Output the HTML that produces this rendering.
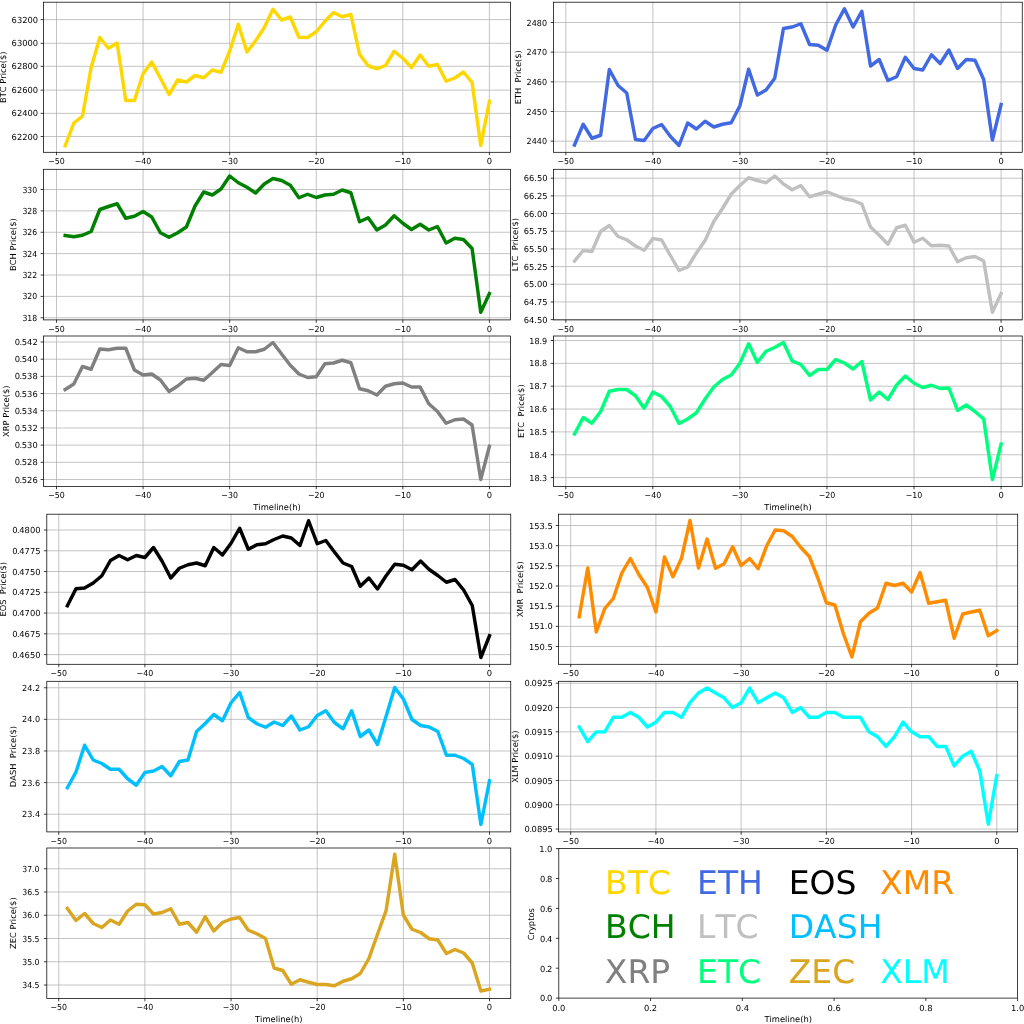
<!DOCTYPE html>
<html><head><meta charset="utf-8"><title>Crypto prices</title>
<style>
html,body{margin:0;padding:0;background:#fff;}
svg{display:block;will-change:transform;}
text{font-family:"DejaVu Sans","Liberation Sans",sans-serif;fill:#000;text-rendering:geometricPrecision;font-kerning:none;}
.t{font-size:8.33px;white-space:pre;}
.g{stroke:#b0b0b0;stroke-width:0.75;fill:none;}
.k{stroke:#000;stroke-width:0.75;fill:none;}
.d{fill:none;stroke-width:3.45;stroke-linejoin:round;stroke-linecap:square;}
.big{font-size:33.0px;}
</style></head><body>
<svg width="1024" height="1024" viewBox="0 0 1024 1024">
<rect x="0" y="0" width="1024" height="1024" fill="#fff"/>
<g id="BTC">
<path class="g" d="M56.5 2.2V152.3M143.08 2.2V152.3M229.66 2.2V152.3M316.24 2.2V152.3M402.82 2.2V152.3M489.4 2.2V152.3M43.5 19.6H510.6M43.5 43.3H510.6M43.5 66.3H510.6M43.5 90.15H510.6M43.5 113.35H510.6M43.5 136.5H510.6"/>
<polyline class="d" stroke="#FFD700" points="65.16,145.75 73.82,123 82.47,116.25 91.13,67.5 99.79,37.5 108.45,48.25 117.11,43 125.76,100.5 134.42,100.5 143.08,73.75 151.74,62 160.4,78.25 169.05,94.5 177.71,80 186.37,82 195.03,75.5 203.69,77.75 212.34,70 221,72.25 229.66,51.25 238.32,24.25 246.98,52 255.63,40.75 264.29,27.5 272.95,9.25 281.61,20 290.27,17 298.92,37.25 307.58,37.5 316.24,31.75 324.9,21.25 333.56,12.5 342.21,16.75 350.87,14.5 359.53,54.25 368.19,65.75 376.85,68.75 385.5,65.5 394.16,51.25 402.82,58.25 411.48,67.5 420.14,55 428.79,66.25 437.45,64.5 446.11,81.25 454.77,78 463.43,72 472.08,82.5 480.74,145.5 489.4,101.25"/>
<rect class="k" x="43.5" y="2.2" width="467.1" height="150.1"/>
<path class="k" d="M56.5 152.3v2.9M143.08 152.3v2.9M229.66 152.3v2.9M316.24 152.3v2.9M402.82 152.3v2.9M489.4 152.3v2.9M43.5 19.6h-2.9M43.5 43.3h-2.9M43.5 66.3h-2.9M43.5 90.15h-2.9M43.5 113.35h-2.9M43.5 136.5h-2.9"/>
<text class="t" x="56.5" y="164.3" textLength="16.58" lengthAdjust="spacingAndGlyphs" text-anchor="middle">−50</text>
<text class="t" x="143.08" y="164.3" textLength="16.58" lengthAdjust="spacingAndGlyphs" text-anchor="middle">−40</text>
<text class="t" x="229.66" y="164.3" textLength="16.58" lengthAdjust="spacingAndGlyphs" text-anchor="middle">−30</text>
<text class="t" x="316.24" y="164.3" textLength="16.58" lengthAdjust="spacingAndGlyphs" text-anchor="middle">−20</text>
<text class="t" x="402.82" y="164.3" textLength="16.58" lengthAdjust="spacingAndGlyphs" text-anchor="middle">−10</text>
<text class="t" x="489.4" y="164.3" text-anchor="middle">0</text>
<text class="t" x="38.1" y="22.65" text-anchor="end">63200</text>
<text class="t" x="38.1" y="46.35" text-anchor="end">63000</text>
<text class="t" x="38.1" y="69.35" text-anchor="end">62800</text>
<text class="t" x="38.1" y="93.2" text-anchor="end">62600</text>
<text class="t" x="38.1" y="116.4" text-anchor="end">62400</text>
<text class="t" x="38.1" y="139.55" text-anchor="end">62200</text>
<text class="t" xml:space="preserve" text-anchor="middle" transform="translate(6.21 77.25) rotate(-90)">BTC Price($)</text>
</g>
<g id="ETH">
<path class="g" d="M565.8 2.2V152.3M652.86 2.2V152.3M739.92 2.2V152.3M826.98 2.2V152.3M914.04 2.2V152.3M1001.1 2.2V152.3M553.6 22.5H1022.25M553.6 52.17H1022.25M553.6 81.84H1022.25M553.6 111.51H1022.25M553.6 141.18H1022.25"/>
<polyline class="d" stroke="#4169E1" points="574.51,145 583.21,124.25 591.92,138.25 600.62,135.25 609.33,69.5 618.04,85.5 626.74,93 635.45,139.5 644.15,140.5 652.86,128.5 661.57,124.5 670.27,136.25 678.98,145.5 687.68,123 696.39,129 705.1,121.25 713.8,127 722.51,124.25 731.21,122.75 739.92,105.75 748.63,69.25 757.33,95 766.04,90 774.74,78.25 783.45,28.5 792.16,27 800.86,23.75 809.57,44.5 818.27,45.25 826.98,50.25 835.69,25 844.39,8.75 853.1,27 861.8,11.25 870.51,66 879.22,59.5 887.92,80.5 896.63,76.75 905.33,57.25 914.04,68.5 922.75,70 931.45,54.75 940.16,63.5 948.86,50 957.57,68.5 966.28,59.5 974.98,60.25 983.69,79.5 992.39,140 1001.1,104.5"/>
<rect class="k" x="553.6" y="2.2" width="468.65" height="150.1"/>
<path class="k" d="M565.8 152.3v2.9M652.86 152.3v2.9M739.92 152.3v2.9M826.98 152.3v2.9M914.04 152.3v2.9M1001.1 152.3v2.9M553.6 22.5h-2.9M553.6 52.17h-2.9M553.6 81.84h-2.9M553.6 111.51h-2.9M553.6 141.18h-2.9"/>
<text class="t" x="565.8" y="164.3" textLength="16.58" lengthAdjust="spacingAndGlyphs" text-anchor="middle">−50</text>
<text class="t" x="652.86" y="164.3" textLength="16.58" lengthAdjust="spacingAndGlyphs" text-anchor="middle">−40</text>
<text class="t" x="739.92" y="164.3" textLength="16.58" lengthAdjust="spacingAndGlyphs" text-anchor="middle">−30</text>
<text class="t" x="826.98" y="164.3" textLength="16.58" lengthAdjust="spacingAndGlyphs" text-anchor="middle">−20</text>
<text class="t" x="914.04" y="164.3" textLength="16.58" lengthAdjust="spacingAndGlyphs" text-anchor="middle">−10</text>
<text class="t" x="1001.1" y="164.3" text-anchor="middle">0</text>
<text class="t" x="547.05" y="25.55" textLength="20.44" lengthAdjust="spacingAndGlyphs" text-anchor="end">2480</text>
<text class="t" x="547.05" y="55.22" textLength="20.44" lengthAdjust="spacingAndGlyphs" text-anchor="end">2470</text>
<text class="t" x="547.05" y="84.89" textLength="20.44" lengthAdjust="spacingAndGlyphs" text-anchor="end">2460</text>
<text class="t" x="547.05" y="114.56" textLength="20.44" lengthAdjust="spacingAndGlyphs" text-anchor="end">2450</text>
<text class="t" x="547.05" y="144.23" textLength="20.44" lengthAdjust="spacingAndGlyphs" text-anchor="end">2440</text>
<text class="t" xml:space="preserve" text-anchor="middle" transform="translate(521.31 77.25) rotate(-90)">ETH  Price($)</text>
</g>
<g id="BCH">
<path class="g" d="M56.5 169.3V319.9M143.08 169.3V319.9M229.66 169.3V319.9M316.24 169.3V319.9M402.82 169.3V319.9M489.4 169.3V319.9M43.5 189.5H510.6M43.5 210.88H510.6M43.5 232.26H510.6M43.5 253.64H510.6M43.5 275.02H510.6M43.5 296.4H510.6M43.5 317.78H510.6"/>
<polyline class="d" stroke="#008000" points="65.16,235.5 73.82,236.75 82.47,235.25 91.13,231.5 99.79,209.5 108.45,206.5 117.11,203.75 125.76,218.25 134.42,216.25 143.08,211.5 151.74,217 160.4,232.75 169.05,237.25 177.71,232.75 186.37,227 195.03,206 203.69,192 212.34,195 221,189 229.66,176 238.32,182.75 246.98,187.25 255.63,193 264.29,184 272.95,178.5 281.61,180.5 290.27,185.25 298.92,197.75 307.58,194.25 316.24,197.5 324.9,195 333.56,194.25 342.21,190 350.87,192.75 359.53,221.75 368.19,217.75 376.85,230 385.5,225 394.16,215.75 402.82,223.25 411.48,229.5 420.14,224.25 428.79,230 437.45,226.5 446.11,243 454.77,238.25 463.43,239.5 472.08,248.5 480.74,312.25 489.4,293.5"/>
<rect class="k" x="43.5" y="169.3" width="467.1" height="150.6"/>
<path class="k" d="M56.5 319.9v2.9M143.08 319.9v2.9M229.66 319.9v2.9M316.24 319.9v2.9M402.82 319.9v2.9M489.4 319.9v2.9M43.5 189.5h-2.9M43.5 210.88h-2.9M43.5 232.26h-2.9M43.5 253.64h-2.9M43.5 275.02h-2.9M43.5 296.4h-2.9M43.5 317.78h-2.9"/>
<text class="t" x="56.5" y="331.9" textLength="16.58" lengthAdjust="spacingAndGlyphs" text-anchor="middle">−50</text>
<text class="t" x="143.08" y="331.9" textLength="16.58" lengthAdjust="spacingAndGlyphs" text-anchor="middle">−40</text>
<text class="t" x="229.66" y="331.9" textLength="16.58" lengthAdjust="spacingAndGlyphs" text-anchor="middle">−30</text>
<text class="t" x="316.24" y="331.9" textLength="16.58" lengthAdjust="spacingAndGlyphs" text-anchor="middle">−20</text>
<text class="t" x="402.82" y="331.9" textLength="16.58" lengthAdjust="spacingAndGlyphs" text-anchor="middle">−10</text>
<text class="t" x="489.4" y="331.9" text-anchor="middle">0</text>
<text class="t" x="37.2" y="192.55" textLength="14.79" lengthAdjust="spacingAndGlyphs" text-anchor="end">330</text>
<text class="t" x="37.2" y="213.93" textLength="14.79" lengthAdjust="spacingAndGlyphs" text-anchor="end">328</text>
<text class="t" x="37.2" y="235.31" textLength="14.79" lengthAdjust="spacingAndGlyphs" text-anchor="end">326</text>
<text class="t" x="37.2" y="256.69" textLength="14.79" lengthAdjust="spacingAndGlyphs" text-anchor="end">324</text>
<text class="t" x="37.2" y="278.07" textLength="14.79" lengthAdjust="spacingAndGlyphs" text-anchor="end">322</text>
<text class="t" x="37.2" y="299.45" textLength="14.79" lengthAdjust="spacingAndGlyphs" text-anchor="end">320</text>
<text class="t" x="37.2" y="320.83" textLength="14.79" lengthAdjust="spacingAndGlyphs" text-anchor="end">318</text>
<text class="t" xml:space="preserve" text-anchor="middle" transform="translate(16.36 244.6) rotate(-90)">BCH Price($)</text>
</g>
<g id="LTC">
<path class="g" d="M565.8 169.3V319.9M652.86 169.3V319.9M739.92 169.3V319.9M826.98 169.3V319.9M914.04 169.3V319.9M1001.1 169.3V319.9M553.6 178.2H1022.25M553.6 195.88H1022.25M553.6 213.56H1022.25M553.6 231.24H1022.25M553.6 248.92H1022.25M553.6 266.6H1022.25M553.6 284.28H1022.25M553.6 301.96H1022.25M553.6 319.64H1022.25"/>
<polyline class="d" stroke="#C0C0C0" points="574.51,261 583.21,250.5 591.92,251.5 600.62,231.5 609.33,225.5 618.04,236.5 626.74,239.75 635.45,246 644.15,250.25 652.86,238.5 661.57,240 670.27,255.25 678.98,270.5 687.68,267 696.39,253 705.1,240.5 713.8,221.5 722.51,208.5 731.21,194.25 739.92,185.5 748.63,177.75 757.33,180.5 766.04,182.75 774.74,176 783.45,184 792.16,189.75 800.86,185.5 809.57,196.75 818.27,194.25 826.98,191.75 835.69,195.25 844.39,198.75 853.1,200.5 861.8,204 870.51,227 879.22,235.25 887.92,244.25 896.63,227.75 905.33,225.25 914.04,242.25 922.75,238.25 931.45,245.75 940.16,245.25 948.86,246 957.57,261.75 966.28,257.75 974.98,256.5 983.69,261 992.39,312.25 1001.1,293.5"/>
<rect class="k" x="553.6" y="169.3" width="468.65" height="150.6"/>
<path class="k" d="M565.8 319.9v2.9M652.86 319.9v2.9M739.92 319.9v2.9M826.98 319.9v2.9M914.04 319.9v2.9M1001.1 319.9v2.9M553.6 178.2h-2.9M553.6 195.88h-2.9M553.6 213.56h-2.9M553.6 231.24h-2.9M553.6 248.92h-2.9M553.6 266.6h-2.9M553.6 284.28h-2.9M553.6 301.96h-2.9M553.6 319.64h-2.9"/>
<text class="t" x="565.8" y="331.9" textLength="16.58" lengthAdjust="spacingAndGlyphs" text-anchor="middle">−50</text>
<text class="t" x="652.86" y="331.9" textLength="16.58" lengthAdjust="spacingAndGlyphs" text-anchor="middle">−40</text>
<text class="t" x="739.92" y="331.9" textLength="16.58" lengthAdjust="spacingAndGlyphs" text-anchor="middle">−30</text>
<text class="t" x="826.98" y="331.9" textLength="16.58" lengthAdjust="spacingAndGlyphs" text-anchor="middle">−20</text>
<text class="t" x="914.04" y="331.9" textLength="16.58" lengthAdjust="spacingAndGlyphs" text-anchor="middle">−10</text>
<text class="t" x="1001.1" y="331.9" text-anchor="middle">0</text>
<text class="t" x="547.5" y="181.25" text-anchor="end">66.50</text>
<text class="t" x="547.5" y="198.93" text-anchor="end">66.25</text>
<text class="t" x="547.5" y="216.61" text-anchor="end">66.00</text>
<text class="t" x="547.5" y="234.29" text-anchor="end">65.75</text>
<text class="t" x="547.5" y="251.97" text-anchor="end">65.50</text>
<text class="t" x="547.5" y="269.65" text-anchor="end">65.25</text>
<text class="t" x="547.5" y="287.33" text-anchor="end">65.00</text>
<text class="t" x="547.5" y="305.01" text-anchor="end">64.75</text>
<text class="t" x="547.5" y="322.69" text-anchor="end">64.50</text>
<text class="t" xml:space="preserve" text-anchor="middle" transform="translate(517.76 244.6) rotate(-90)">LTC  Price($)</text>
</g>
<g id="XRP">
<path class="g" d="M56.5 336V486.4M143.08 336V486.4M229.66 336V486.4M316.24 336V486.4M402.82 336V486.4M489.4 336V486.4M43.5 342H510.6M43.5 359.19H510.6M43.5 376.38H510.6M43.5 393.57H510.6M43.5 410.76H510.6M43.5 427.95H510.6M43.5 445.14H510.6M43.5 462.33H510.6M43.5 479.52H510.6"/>
<polyline class="d" stroke="#808080" points="65.16,389.5 73.82,384 82.47,366.5 91.13,369.25 99.79,349 108.45,349.75 117.11,348.25 125.76,348.25 134.42,370 143.08,375 151.74,374 160.4,380 169.05,391.5 177.71,386 186.37,379 195.03,378.25 203.69,380.25 212.34,372.5 221,364.5 229.66,365.5 238.32,347.75 246.98,351.75 255.63,351.75 264.29,349.25 272.95,342.5 281.61,354 290.27,365.25 298.92,374 307.58,377.5 316.24,376.75 324.9,363.75 333.56,363 342.21,360.25 350.87,362.75 359.53,388.75 368.19,390.75 376.85,395 385.5,386.25 394.16,383.75 402.82,383 411.48,387 420.14,387 428.79,403.75 437.45,411.5 446.11,423.25 454.77,419.75 463.43,419 472.08,425 480.74,479.5 489.4,446.25"/>
<rect class="k" x="43.5" y="336" width="467.1" height="150.4"/>
<path class="k" d="M56.5 486.4v2.9M143.08 486.4v2.9M229.66 486.4v2.9M316.24 486.4v2.9M402.82 486.4v2.9M489.4 486.4v2.9M43.5 342h-2.9M43.5 359.19h-2.9M43.5 376.38h-2.9M43.5 393.57h-2.9M43.5 410.76h-2.9M43.5 427.95h-2.9M43.5 445.14h-2.9M43.5 462.33h-2.9M43.5 479.52h-2.9"/>
<text class="t" x="56.5" y="498.4" textLength="16.58" lengthAdjust="spacingAndGlyphs" text-anchor="middle">−50</text>
<text class="t" x="143.08" y="498.4" textLength="16.58" lengthAdjust="spacingAndGlyphs" text-anchor="middle">−40</text>
<text class="t" x="229.66" y="498.4" textLength="16.58" lengthAdjust="spacingAndGlyphs" text-anchor="middle">−30</text>
<text class="t" x="316.24" y="498.4" textLength="16.58" lengthAdjust="spacingAndGlyphs" text-anchor="middle">−20</text>
<text class="t" x="402.82" y="498.4" textLength="16.58" lengthAdjust="spacingAndGlyphs" text-anchor="middle">−10</text>
<text class="t" x="489.4" y="498.4" text-anchor="middle">0</text>
<text class="t" x="37.7" y="345.05" dx="0 -0.5 -0.45" text-anchor="end">0.542</text>
<text class="t" x="37.7" y="362.24" dx="0 -0.5 -0.45" text-anchor="end">0.540</text>
<text class="t" x="37.7" y="379.43" dx="0 -0.5 -0.45" text-anchor="end">0.538</text>
<text class="t" x="37.7" y="396.62" dx="0 -0.5 -0.45" text-anchor="end">0.536</text>
<text class="t" x="37.7" y="413.81" dx="0 -0.5 -0.45" text-anchor="end">0.534</text>
<text class="t" x="37.7" y="431" dx="0 -0.5 -0.45" text-anchor="end">0.532</text>
<text class="t" x="37.7" y="448.19" dx="0 -0.5 -0.45" text-anchor="end">0.530</text>
<text class="t" x="37.7" y="465.38" dx="0 -0.5 -0.45" text-anchor="end">0.528</text>
<text class="t" x="37.7" y="482.57" dx="0 -0.5 -0.45" text-anchor="end">0.526</text>
<text class="t" xml:space="preserve" text-anchor="middle" transform="translate(8.61 411.2) rotate(-90)">XRP Price($)</text>
<text class="t" x="277.05" y="509.9" text-anchor="middle">Timeline(h)</text>
</g>
<g id="ETC">
<path class="g" d="M565.8 336V486.4M652.86 336V486.4M739.92 336V486.4M826.98 336V486.4M914.04 336V486.4M1001.1 336V486.4M553.6 340.5H1022.25M553.6 363.35H1022.25M553.6 386.2H1022.25M553.6 409.05H1022.25M553.6 431.9H1022.25M553.6 454.75H1022.25M553.6 477.6H1022.25"/>
<polyline class="d" stroke="#00FF7F" points="574.51,434 583.21,417.5 591.92,423.25 600.62,411.5 609.33,391.25 618.04,389.5 626.74,389.5 635.45,395.75 644.15,408.25 652.86,392 661.57,396.5 670.27,406.5 678.98,423.5 687.68,419 696.39,412.75 705.1,399 713.8,387 722.51,379.5 731.21,375 739.92,363.25 748.63,343.75 757.33,362.5 766.04,351.25 774.74,347.5 783.45,342.5 792.16,361 800.86,364.5 809.57,375.5 818.27,369.5 826.98,369.5 835.69,359.5 844.39,363 853.1,369 861.8,361.5 870.51,400 879.22,392 887.92,399.5 896.63,385 905.33,376 914.04,383.25 922.75,387.5 931.45,385.25 940.16,388.5 948.86,388 957.57,410.5 966.28,405 974.98,411.5 983.69,419 992.39,479.5 1001.1,444"/>
<rect class="k" x="553.6" y="336" width="468.65" height="150.4"/>
<path class="k" d="M565.8 486.4v2.9M652.86 486.4v2.9M739.92 486.4v2.9M826.98 486.4v2.9M914.04 486.4v2.9M1001.1 486.4v2.9M553.6 340.5h-2.9M553.6 363.35h-2.9M553.6 386.2h-2.9M553.6 409.05h-2.9M553.6 431.9h-2.9M553.6 454.75h-2.9M553.6 477.6h-2.9"/>
<text class="t" x="565.8" y="498.4" textLength="16.58" lengthAdjust="spacingAndGlyphs" text-anchor="middle">−50</text>
<text class="t" x="652.86" y="498.4" textLength="16.58" lengthAdjust="spacingAndGlyphs" text-anchor="middle">−40</text>
<text class="t" x="739.92" y="498.4" textLength="16.58" lengthAdjust="spacingAndGlyphs" text-anchor="middle">−30</text>
<text class="t" x="826.98" y="498.4" textLength="16.58" lengthAdjust="spacingAndGlyphs" text-anchor="middle">−20</text>
<text class="t" x="914.04" y="498.4" textLength="16.58" lengthAdjust="spacingAndGlyphs" text-anchor="middle">−10</text>
<text class="t" x="1001.1" y="498.4" text-anchor="middle">0</text>
<text class="t" x="547.2" y="343.55" textLength="17.94" lengthAdjust="spacingAndGlyphs" text-anchor="end">18.9</text>
<text class="t" x="547.2" y="366.4" textLength="17.94" lengthAdjust="spacingAndGlyphs" text-anchor="end">18.8</text>
<text class="t" x="547.2" y="389.25" textLength="17.94" lengthAdjust="spacingAndGlyphs" text-anchor="end">18.7</text>
<text class="t" x="547.2" y="412.1" textLength="17.94" lengthAdjust="spacingAndGlyphs" text-anchor="end">18.6</text>
<text class="t" x="547.2" y="434.95" textLength="17.94" lengthAdjust="spacingAndGlyphs" text-anchor="end">18.5</text>
<text class="t" x="547.2" y="457.8" textLength="17.94" lengthAdjust="spacingAndGlyphs" text-anchor="end">18.4</text>
<text class="t" x="547.2" y="480.65" textLength="17.94" lengthAdjust="spacingAndGlyphs" text-anchor="end">18.3</text>
<text class="t" xml:space="preserve" text-anchor="middle" transform="translate(523.56 411.2) rotate(-90)">ETC  Price($)</text>
<text class="t" x="787.92" y="509.9" text-anchor="middle">Timeline(h)</text>
</g>
<g id="EOS">
<path class="g" d="M58.75 514.2V664.3M144.9 514.2V664.3M231.05 514.2V664.3M317.2 514.2V664.3M403.35 514.2V664.3M489.5 514.2V664.3M46.8 530H510.75M46.8 550.77H510.75M46.8 571.54H510.75M46.8 592.31H510.75M46.8 613.08H510.75M46.8 633.85H510.75M46.8 654.62H510.75"/>
<polyline class="d" stroke="#000000" points="67.37,605.75 75.98,588.75 84.59,588 93.21,583 101.82,575.75 110.44,560.5 119.06,555.5 127.67,559.75 136.28,555.5 144.9,557.5 153.51,547.5 162.13,561.25 170.75,578 179.36,568.25 187.97,564.75 196.59,563 205.2,565.75 213.82,547.5 222.44,555 231.05,543.25 239.66,528.25 248.28,549.25 256.89,544.75 265.51,543.75 274.12,539.5 282.74,536 291.36,538 299.97,545.5 308.59,520.75 317.2,543.75 325.81,540.5 334.43,552 343.04,563 351.66,566.5 360.27,586.25 368.89,578 377.5,589 386.12,575.75 394.74,564.25 403.35,565.25 411.97,569.75 420.58,561 429.19,569.5 437.81,575.5 446.43,582.25 455.04,579.5 463.65,590 472.27,605.5 480.88,657.5 489.5,635.75"/>
<rect class="k" x="46.8" y="514.2" width="463.95" height="150.1"/>
<path class="k" d="M58.75 664.3v2.9M144.9 664.3v2.9M231.05 664.3v2.9M317.2 664.3v2.9M403.35 664.3v2.9M489.5 664.3v2.9M46.8 530h-2.9M46.8 550.77h-2.9M46.8 571.54h-2.9M46.8 592.31h-2.9M46.8 613.08h-2.9M46.8 633.85h-2.9M46.8 654.62h-2.9"/>
<text class="t" x="58.75" y="676.3" textLength="16.58" lengthAdjust="spacingAndGlyphs" text-anchor="middle">−50</text>
<text class="t" x="144.9" y="676.3" textLength="16.58" lengthAdjust="spacingAndGlyphs" text-anchor="middle">−40</text>
<text class="t" x="231.05" y="676.3" textLength="16.58" lengthAdjust="spacingAndGlyphs" text-anchor="middle">−30</text>
<text class="t" x="317.2" y="676.3" textLength="16.58" lengthAdjust="spacingAndGlyphs" text-anchor="middle">−20</text>
<text class="t" x="403.35" y="676.3" textLength="16.58" lengthAdjust="spacingAndGlyphs" text-anchor="middle">−10</text>
<text class="t" x="489.5" y="676.3" text-anchor="middle">0</text>
<text class="t" x="40.5" y="533.05" dx="0 -0.5 -0.45" text-anchor="end">0.4800</text>
<text class="t" x="40.5" y="553.82" dx="0 -0.5 -0.45" text-anchor="end">0.4775</text>
<text class="t" x="40.5" y="574.59" dx="0 -0.5 -0.45" text-anchor="end">0.4750</text>
<text class="t" x="40.5" y="595.36" dx="0 -0.5 -0.45" text-anchor="end">0.4725</text>
<text class="t" x="40.5" y="616.13" dx="0 -0.5 -0.45" text-anchor="end">0.4700</text>
<text class="t" x="40.5" y="636.9" dx="0 -0.5 -0.45" text-anchor="end">0.4675</text>
<text class="t" x="40.5" y="657.67" dx="0 -0.5 -0.45" text-anchor="end">0.4650</text>
<text class="t" xml:space="preserve" text-anchor="middle" transform="translate(5.61 589.25) rotate(-90)">EOS  Price($)</text>
</g>
<g id="XMR">
<path class="g" d="M570.7 514.2V664.3M655.92 514.2V664.3M741.14 514.2V664.3M826.36 514.2V664.3M911.58 514.2V664.3M996.8 514.2V664.3M558.6 525.5H1017.7M558.6 545.67H1017.7M558.6 565.84H1017.7M558.6 586.01H1017.7M558.6 606.18H1017.7M558.6 626.35H1017.7M558.6 646.52H1017.7"/>
<polyline class="d" stroke="#FF8C00" points="579.22,616.75 587.74,568 596.27,632 604.79,608.5 613.31,598.5 621.83,573 630.35,558.5 638.88,574.5 647.4,587.5 655.92,612 664.44,557 672.96,576.75 681.49,558.25 690.01,520.5 698.53,568 707.05,539 715.57,568.25 724.1,563.75 732.62,546.75 741.14,565.5 749.66,558.5 758.18,568.75 766.71,545.75 775.23,530 783.75,530.75 792.27,536.5 800.79,547.5 809.32,556.5 817.84,578 826.36,602.75 834.88,605 843.4,633.75 851.93,657 860.45,621.75 868.97,613.25 877.49,608 886.01,583.25 894.54,585.5 903.06,583.25 911.58,592 920.1,572.5 928.62,603.25 937.15,601.75 945.67,600.25 954.19,638.25 962.71,614 971.23,612 979.76,610.25 988.28,635.75 996.8,630.5"/>
<rect class="k" x="558.6" y="514.2" width="459.1" height="150.1"/>
<path class="k" d="M570.7 664.3v2.9M655.92 664.3v2.9M741.14 664.3v2.9M826.36 664.3v2.9M911.58 664.3v2.9M996.8 664.3v2.9M558.6 525.5h-2.9M558.6 545.67h-2.9M558.6 565.84h-2.9M558.6 586.01h-2.9M558.6 606.18h-2.9M558.6 626.35h-2.9M558.6 646.52h-2.9"/>
<text class="t" x="570.7" y="676.3" textLength="16.58" lengthAdjust="spacingAndGlyphs" text-anchor="middle">−50</text>
<text class="t" x="655.92" y="676.3" textLength="16.58" lengthAdjust="spacingAndGlyphs" text-anchor="middle">−40</text>
<text class="t" x="741.14" y="676.3" textLength="16.58" lengthAdjust="spacingAndGlyphs" text-anchor="middle">−30</text>
<text class="t" x="826.36" y="676.3" textLength="16.58" lengthAdjust="spacingAndGlyphs" text-anchor="middle">−20</text>
<text class="t" x="911.58" y="676.3" textLength="16.58" lengthAdjust="spacingAndGlyphs" text-anchor="middle">−10</text>
<text class="t" x="996.8" y="676.3" text-anchor="middle">0</text>
<text class="t" x="552.8" y="528.55" text-anchor="end">153.5</text>
<text class="t" x="552.8" y="548.72" text-anchor="end">153.0</text>
<text class="t" x="552.8" y="568.89" text-anchor="end">152.5</text>
<text class="t" x="552.8" y="589.06" text-anchor="end">152.0</text>
<text class="t" x="552.8" y="609.23" text-anchor="end">151.5</text>
<text class="t" x="552.8" y="629.4" text-anchor="end">151.0</text>
<text class="t" x="552.8" y="649.57" text-anchor="end">150.5</text>
<text class="t" xml:space="preserve" text-anchor="middle" transform="translate(523.06 589.25) rotate(-90)">XMR  Price($)</text>
</g>
<g id="DASH">
<path class="g" d="M58.75 681.3V831.9M144.9 681.3V831.9M231.05 681.3V831.9M317.2 681.3V831.9M403.35 681.3V831.9M489.5 681.3V831.9M46.8 687.75H510.75M46.8 719.37H510.75M46.8 750.99H510.75M46.8 782.61H510.75M46.8 814.23H510.75"/>
<polyline class="d" stroke="#00BFFF" points="67.37,787.75 75.98,772 84.59,745.25 93.21,760 101.82,763.5 110.44,769.25 119.06,769.25 127.67,778.75 136.28,785.25 144.9,772.5 153.51,771 162.13,766.5 170.75,775.75 179.36,761.5 187.97,760 196.59,731.5 205.2,723.5 213.82,714.5 222.44,720.75 231.05,702.75 239.66,692.5 248.28,717.5 256.89,723.75 265.51,727.25 274.12,722 282.74,725.5 291.36,716 299.97,730 308.59,726.75 317.2,715.5 325.81,710.75 334.43,722.5 343.04,728.75 351.66,710.75 360.27,736.5 368.89,730 377.5,744.5 386.12,716.25 394.74,687.5 403.35,699 411.97,719.5 420.58,725.5 429.19,727 437.81,731.5 446.43,755.25 455.04,755.25 463.65,758.5 472.27,764.5 480.88,824.5 489.5,780.75"/>
<rect class="k" x="46.8" y="681.3" width="463.95" height="150.6"/>
<path class="k" d="M58.75 831.9v2.9M144.9 831.9v2.9M231.05 831.9v2.9M317.2 831.9v2.9M403.35 831.9v2.9M489.5 831.9v2.9M46.8 687.75h-2.9M46.8 719.37h-2.9M46.8 750.99h-2.9M46.8 782.61h-2.9M46.8 814.23h-2.9"/>
<text class="t" x="58.75" y="843.9" textLength="16.58" lengthAdjust="spacingAndGlyphs" text-anchor="middle">−50</text>
<text class="t" x="144.9" y="843.9" textLength="16.58" lengthAdjust="spacingAndGlyphs" text-anchor="middle">−40</text>
<text class="t" x="231.05" y="843.9" textLength="16.58" lengthAdjust="spacingAndGlyphs" text-anchor="middle">−30</text>
<text class="t" x="317.2" y="843.9" textLength="16.58" lengthAdjust="spacingAndGlyphs" text-anchor="middle">−20</text>
<text class="t" x="403.35" y="843.9" textLength="16.58" lengthAdjust="spacingAndGlyphs" text-anchor="middle">−10</text>
<text class="t" x="489.5" y="843.9" text-anchor="middle">0</text>
<text class="t" x="40.1" y="690.8" textLength="18.04" lengthAdjust="spacingAndGlyphs" text-anchor="end">24.2</text>
<text class="t" x="40.1" y="722.42" textLength="18.04" lengthAdjust="spacingAndGlyphs" text-anchor="end">24.0</text>
<text class="t" x="40.1" y="754.04" textLength="18.04" lengthAdjust="spacingAndGlyphs" text-anchor="end">23.8</text>
<text class="t" x="40.1" y="785.66" textLength="18.04" lengthAdjust="spacingAndGlyphs" text-anchor="end">23.6</text>
<text class="t" x="40.1" y="817.28" textLength="18.04" lengthAdjust="spacingAndGlyphs" text-anchor="end">23.4</text>
<text class="t" xml:space="preserve" text-anchor="middle" transform="translate(16.26 756.6) rotate(-90)">DASH  Price($)</text>
</g>
<g id="XLM">
<path class="g" d="M570.7 681.3V831.9M655.92 681.3V831.9M741.14 681.3V831.9M826.36 681.3V831.9M911.58 681.3V831.9M996.8 681.3V831.9M558.6 683.25H1017.7M558.6 707.55H1017.7M558.6 731.85H1017.7M558.6 756.15H1017.7M558.6 780.45H1017.7M558.6 804.75H1017.7M558.6 829.05H1017.7"/>
<polyline class="d" stroke="#00FFFF" points="579.22,726.99 587.74,741.57 596.27,731.85 604.79,731.85 613.31,717.27 621.83,717.27 630.35,712.41 638.88,717.27 647.4,726.99 655.92,722.13 664.44,712.41 672.96,712.41 681.49,717.27 690.01,702.69 698.53,692.97 707.05,688.11 715.57,692.97 724.1,697.83 732.62,707.55 741.14,702.69 749.66,688.11 758.18,702.69 766.71,697.83 775.23,692.97 783.75,697.83 792.27,712.41 800.79,707.55 809.32,717.27 817.84,717.27 826.36,712.41 834.88,712.41 843.4,717.27 851.93,717.27 860.45,717.27 868.97,731.85 877.49,736.71 886.01,746.43 894.54,736.71 903.06,722.13 911.58,731.85 920.1,736.71 928.62,736.71 937.15,746.43 945.67,746.43 954.19,765.87 962.71,756.15 971.23,751.29 979.76,770.73 988.28,824.19 996.8,775.59"/>
<rect class="k" x="558.6" y="681.3" width="459.1" height="150.6"/>
<path class="k" d="M570.7 831.9v2.9M655.92 831.9v2.9M741.14 831.9v2.9M826.36 831.9v2.9M911.58 831.9v2.9M996.8 831.9v2.9M558.6 683.25h-2.9M558.6 707.55h-2.9M558.6 731.85h-2.9M558.6 756.15h-2.9M558.6 780.45h-2.9M558.6 804.75h-2.9M558.6 829.05h-2.9"/>
<text class="t" x="570.7" y="843.9" textLength="16.58" lengthAdjust="spacingAndGlyphs" text-anchor="middle">−50</text>
<text class="t" x="655.92" y="843.9" textLength="16.58" lengthAdjust="spacingAndGlyphs" text-anchor="middle">−40</text>
<text class="t" x="741.14" y="843.9" textLength="16.58" lengthAdjust="spacingAndGlyphs" text-anchor="middle">−30</text>
<text class="t" x="826.36" y="843.9" textLength="16.58" lengthAdjust="spacingAndGlyphs" text-anchor="middle">−20</text>
<text class="t" x="911.58" y="843.9" textLength="16.58" lengthAdjust="spacingAndGlyphs" text-anchor="middle">−10</text>
<text class="t" x="996.8" y="843.9" text-anchor="middle">0</text>
<text class="t" x="552.8" y="686.3" dx="0 -0.5 -0.45" text-anchor="end">0.0925</text>
<text class="t" x="552.8" y="710.6" dx="0 -0.5 -0.45" text-anchor="end">0.0920</text>
<text class="t" x="552.8" y="734.9" dx="0 -0.5 -0.45" text-anchor="end">0.0915</text>
<text class="t" x="552.8" y="759.2" dx="0 -0.5 -0.45" text-anchor="end">0.0910</text>
<text class="t" x="552.8" y="783.5" dx="0 -0.5 -0.45" text-anchor="end">0.0905</text>
<text class="t" x="552.8" y="807.8" dx="0 -0.5 -0.45" text-anchor="end">0.0900</text>
<text class="t" x="552.8" y="832.1" dx="0 -0.5 -0.45" text-anchor="end">0.0895</text>
<text class="t" xml:space="preserve" text-anchor="middle" transform="translate(518.41 756.6) rotate(-90)">XLM Price($)</text>
</g>
<g id="ZEC">
<path class="g" d="M58.75 848V998.4M144.9 848V998.4M231.05 848V998.4M317.2 848V998.4M403.35 848V998.4M489.5 848V998.4M46.8 868.75H510.75M46.8 892H510.75M46.8 915.25H510.75M46.8 938.5H510.75M46.8 961.75H510.75M46.8 985H510.75"/>
<polyline class="d" stroke="#DAA520" points="67.37,908.5 75.98,920.5 84.59,913.5 93.21,923.5 101.82,927.5 110.44,920 119.06,924.25 127.67,911 136.28,904.25 144.9,904.75 153.51,914 162.13,912.5 170.75,908.75 179.36,924.25 187.97,922.5 196.59,932.25 205.2,916.75 213.82,931 222.44,922.5 231.05,919 239.66,917.5 248.28,930.25 256.89,933.75 265.51,938.5 274.12,968 282.74,970.5 291.36,984.25 299.97,979.75 308.59,982.25 317.2,984.5 325.81,984.5 334.43,985.75 343.04,981.25 351.66,978.75 360.27,973.5 368.89,958.5 377.5,934.25 386.12,910.5 394.74,854.25 403.35,915 411.97,929.25 420.58,932.5 429.19,938.75 437.81,940 446.43,953.5 455.04,949.5 463.65,953 472.27,963 480.88,991 489.5,989.25"/>
<rect class="k" x="46.8" y="848" width="463.95" height="150.4"/>
<path class="k" d="M58.75 998.4v2.9M144.9 998.4v2.9M231.05 998.4v2.9M317.2 998.4v2.9M403.35 998.4v2.9M489.5 998.4v2.9M46.8 868.75h-2.9M46.8 892h-2.9M46.8 915.25h-2.9M46.8 938.5h-2.9M46.8 961.75h-2.9M46.8 985h-2.9"/>
<text class="t" x="58.75" y="1010.4" textLength="16.58" lengthAdjust="spacingAndGlyphs" text-anchor="middle">−50</text>
<text class="t" x="144.9" y="1010.4" textLength="16.58" lengthAdjust="spacingAndGlyphs" text-anchor="middle">−40</text>
<text class="t" x="231.05" y="1010.4" textLength="16.58" lengthAdjust="spacingAndGlyphs" text-anchor="middle">−30</text>
<text class="t" x="317.2" y="1010.4" textLength="16.58" lengthAdjust="spacingAndGlyphs" text-anchor="middle">−20</text>
<text class="t" x="403.35" y="1010.4" textLength="16.58" lengthAdjust="spacingAndGlyphs" text-anchor="middle">−10</text>
<text class="t" x="489.5" y="1010.4" text-anchor="middle">0</text>
<text class="t" x="39.5" y="871.8" textLength="17.29" lengthAdjust="spacingAndGlyphs" text-anchor="end">37.0</text>
<text class="t" x="39.5" y="895.05" textLength="17.29" lengthAdjust="spacingAndGlyphs" text-anchor="end">36.5</text>
<text class="t" x="39.5" y="918.3" textLength="17.29" lengthAdjust="spacingAndGlyphs" text-anchor="end">36.0</text>
<text class="t" x="39.5" y="941.55" textLength="17.29" lengthAdjust="spacingAndGlyphs" text-anchor="end">35.5</text>
<text class="t" x="39.5" y="964.8" textLength="17.29" lengthAdjust="spacingAndGlyphs" text-anchor="end">35.0</text>
<text class="t" x="39.5" y="988.05" textLength="17.29" lengthAdjust="spacingAndGlyphs" text-anchor="end">34.5</text>
<text class="t" xml:space="preserve" text-anchor="middle" transform="translate(16.26 923.2) rotate(-90)">ZEC Price($)</text>
<text class="t" x="278.77" y="1021.9" text-anchor="middle">Timeline(h)</text>
</g>
<g id="legend">
<rect class="k" x="558.8" y="848.6" width="458.8" height="149.5"/>
<text class="t" x="558.8" y="1010.55" text-anchor="middle">0.0</text>
<text class="t" x="552.4" y="1001.4" dx="0 -0.5 -0.45" text-anchor="end">0.0</text>
<text class="t" x="650.56" y="1010.55" text-anchor="middle">0.2</text>
<text class="t" x="552.4" y="971.5" dx="0 -0.5 -0.45" text-anchor="end">0.2</text>
<text class="t" x="742.32" y="1010.55" text-anchor="middle">0.4</text>
<text class="t" x="552.4" y="941.6" dx="0 -0.5 -0.45" text-anchor="end">0.4</text>
<text class="t" x="834.08" y="1010.55" text-anchor="middle">0.6</text>
<text class="t" x="552.4" y="911.7" dx="0 -0.5 -0.45" text-anchor="end">0.6</text>
<text class="t" x="925.84" y="1010.55" text-anchor="middle">0.8</text>
<text class="t" x="552.4" y="881.8" dx="0 -0.5 -0.45" text-anchor="end">0.8</text>
<text class="t" x="1017.6" y="1010.55" text-anchor="middle">1.0</text>
<text class="t" x="552.4" y="851.9" text-anchor="end">1.0</text>
<path class="k" d="M558.8 998.1v2.9M558.8 998.1h-2.9M650.56 998.1v2.9M558.8 968.2h-2.9M742.32 998.1v2.9M558.8 938.3h-2.9M834.08 998.1v2.9M558.8 908.4h-2.9M925.84 998.1v2.9M558.8 878.5h-2.9M1017.6 998.1v2.9M558.8 848.6h-2.9"/>
<text class="t" text-anchor="middle" transform="translate(533.61 924.25) rotate(-90)">Cryptos</text>
<text class="t" x="788.2" y="1022.05" text-anchor="middle">Timeline(h)</text>
<text class="big" transform="translate(605.03 893.6) scale(1 0.985)" style="fill:#FFD700">BTC</text>
<text class="big" transform="translate(697.04 893.6) scale(1 0.985)" style="fill:#4169E1">ETH</text>
<text class="big" transform="translate(788.7 893.6) scale(1 0.985)" style="fill:#000000">EOS</text>
<text class="big" transform="translate(880.06 893.6) scale(1 0.985)" style="fill:#FF8C00">XMR</text>
<text class="big" transform="translate(605.03 937.85) scale(1 0.985)" style="fill:#008000">BCH</text>
<text class="big" transform="translate(697.04 937.85) scale(1 0.985)" style="fill:#C0C0C0;font-kerning:none">LTC</text>
<text class="big" transform="translate(788.7 937.85) scale(1 0.985)" style="fill:#00BFFF">DASH</text>
<text class="big" transform="translate(604.78 983.3) scale(1 0.985)" style="fill:#808080">XRP</text>
<text class="big" transform="translate(697.04 983.3) scale(1 0.985)" style="fill:#00FF7F">ETC</text>
<text class="big" transform="translate(788.7 983.3) scale(1 0.985)" style="fill:#DAA520">ZEC</text>
<text class="big" transform="translate(880.26 983.3) scale(1 0.985)" style="fill:#00FFFF">XLM</text>
</g>
</svg>
</body></html>
